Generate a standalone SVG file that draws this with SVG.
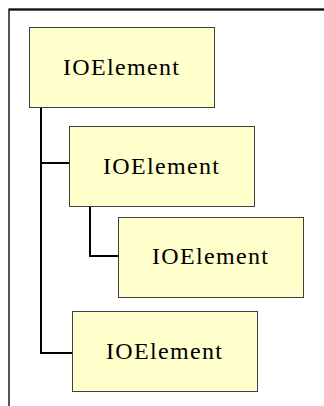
<svg xmlns="http://www.w3.org/2000/svg" width="324" height="406" viewBox="0 0 324 406">
<style>
.box{fill:#FFFFCC;stroke:#404040;stroke-width:1}
.lbl{font-family:"Liberation Serif","Times New Roman",serif;font-size:24px;fill:#000;text-anchor:middle}
.con{fill:none;stroke:#000;stroke-width:2}
</style>
<rect x="0" y="0" width="324" height="406" fill="#fff"/>
<path d="M9,410 V9.5 H330" fill="none" stroke="#555" stroke-width="2"/>
<path d="M9,9.5 H330" fill="none" stroke="#111" stroke-width="2"/>
<g id="connectors">
<path class="con" d="M41,107 V353 H72"/>
<path class="con" d="M41,163 H69"/>
<path class="con" d="M90,206 V256 H118"/>
</g>
<g id="node1"><rect class="box" x="29.5" y="27.5" width="185" height="80"/><text class="lbl" x="121" y="75" textLength="116" lengthAdjust="spacing">IOElement</text></g>
<g id="node2"><rect class="box" x="69.5" y="126.5" width="185" height="80"/><text class="lbl" x="161" y="174" textLength="116" lengthAdjust="spacing">IOElement</text></g>
<g id="node3"><rect class="box" x="118.5" y="217.5" width="185" height="80"/><text class="lbl" x="210" y="264" textLength="116" lengthAdjust="spacing">IOElement</text></g>
<g id="node4"><rect class="box" x="72.5" y="311.5" width="185" height="80"/><text class="lbl" x="164" y="359" textLength="116" lengthAdjust="spacing">IOElement</text></g>
</svg>
